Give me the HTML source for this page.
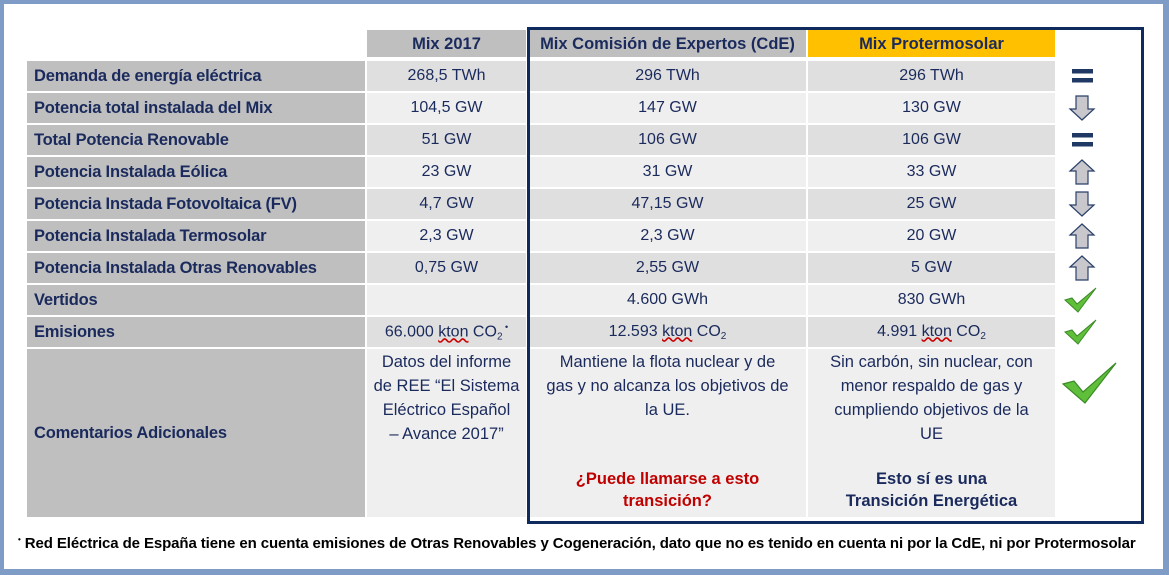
<!DOCTYPE html>
<html><head><meta charset="utf-8"><style>
*{margin:0;padding:0;box-sizing:border-box}
body{width:1169px;height:575px;position:relative;overflow:hidden;background:#fff;font-family:"Liberation Sans",sans-serif;color:#1a2a5c}
.fr{position:absolute;background:#7f9cc6}
.c{position:absolute;display:flex;align-items:center;justify-content:center;text-align:center;font-size:16px;white-space:nowrap}
.l{position:absolute;display:flex;align-items:center;padding-left:7px;font-size:16.5px;font-weight:bold;background:#bfbfbf;white-space:nowrap;letter-spacing:-0.2px}
.h{font-weight:bold;font-size:16.5px;padding-top:2px}
.txt{position:absolute;text-align:center;font-size:16.5px;line-height:24px;white-space:nowrap}
sub{font-size:10px;vertical-align:-3px}
.ic{position:absolute}
</style></head><body>
<div class="fr" style="left:0;top:0;width:1169px;height:4px"></div>
<div class="fr" style="left:0;top:0;width:4px;height:575px"></div>
<div class="fr" style="left:1163px;top:0;width:6px;height:575px"></div>
<div class="fr" style="left:0;top:569px;width:1169px;height:6px"></div>

<div class="c h" style="left:367px;top:30px;width:159px;height:27px;background:#bfbfbf">Mix 2017</div>
<div class="c h" style="left:529px;top:30px;width:277px;height:27px;background:#bfbfbf">Mix Comisión de Expertos (CdE)</div>
<div class="c h" style="left:808px;top:30px;width:247px;height:27px;background:#ffc000">Mix Protermosolar</div>

<div id="rows"></div>
<script>
var W="<u style='text-decoration:underline wavy #c00'>kton</u>";
var rows=[
["Demanda de energía eléctrica","268,5 TWh","296 TWh","296 TWh","eq"],
["Potencia total instalada del Mix","104,5 GW","147 GW","130 GW","dn"],
["Total Potencia Renovable","51 GW","106 GW","106 GW","eq"],
["Potencia Instalada Eólica","23 GW","31 GW","33 GW","up"],
["Potencia Instada Fotovoltaica (FV)","4,7 GW","47,15 GW","25 GW","dn"],
["Potencia Instalada Termosolar","2,3 GW","2,3 GW","20 GW","up"],
["Potencia Instalada Otras Renovables","0,75 GW","2,55 GW","5 GW","up"],
["Vertidos","","4.600 GWh","830 GWh","ck"],
["Emisiones","66.000 "+W+" CO<sub>2</sub><sup style='font-size:9px'> •</sup>","12.593 "+W+" CO<sub>2</sub>","4.991 "+W+" CO<sub>2</sub>","ck"]];
var h="";
var icons={
eq:'<svg width="22" height="18"><rect x="1" y="2" width="21" height="4.5" fill="#1f3864"/><rect x="1" y="11" width="21" height="4.5" fill="#1f3864"/></svg>',
up:'<svg width="28" height="26"><path d="M14 1 L26 12 L20 12 L20 25 L8 25 L8 12 L2 12 Z" fill="#c8c8cc" stroke="#2a3f6a" stroke-width="1.2"/></svg>',
dn:'<svg width="28" height="26"><path d="M14 25 L26 14 L20 14 L20 1 L8 1 L8 14 L2 14 Z" fill="#c8c8cc" stroke="#2a3f6a" stroke-width="1.2"/></svg>',
ck:'<svg width="34" height="26"><path d="M1 13 L8 11 L13 17 L32 1 L14 25 Z" fill="#5fbf3a" stroke="#3a8a25" stroke-width="1"/></svg>'};
for(var i=0;i<rows.length;i++){
 var t=61+i*32, r=rows[i], bg=(i%2==0)?"#dfdfdf":"#efefef";
 h+='<div class="l" style="left:27px;top:'+t+'px;width:338px;height:30px"><span>'+r[0]+'</span></div>';
 h+='<div class="c" style="left:367px;top:'+t+'px;width:159px;height:30px;background:'+bg+'"><span>'+r[1]+'</span></div>';
 h+='<div class="c" style="left:529px;top:'+t+'px;width:277px;height:30px;background:'+bg+'"><span>'+r[2]+'</span></div>';
 h+='<div class="c" style="left:808px;top:'+t+'px;width:247px;height:30px;background:'+bg+'"><span>'+r[3]+'</span></div>';
 var ic=icons[r[4]], x=r[4]=="eq"?1071:(r[4]=="ck"?1064:1068);
 h+='<div class="ic" style="left:'+x+'px;top:'+(t+(r[4]=="eq"?6:2))+'px">'+ic+'</div>';
}
document.getElementById("rows").innerHTML=h;
</script>

<div class="l" style="left:27px;top:349px;width:338px;height:168px">Comentarios Adicionales</div>
<div style="position:absolute;left:367px;top:349px;width:159px;height:168px;background:#efefef"></div>
<div style="position:absolute;left:529px;top:349px;width:277px;height:168px;background:#efefef"></div>
<div style="position:absolute;left:808px;top:349px;width:247px;height:168px;background:#efefef"></div>
<div class="txt" style="left:362px;top:350px;width:169px">Datos del informe<br>de REE “El Sistema<br>Eléctrico Español<br>– Avance 2017”</div>
<div class="txt" style="left:529px;top:350px;width:277px">Mantiene la flota nuclear y de<br>gas y no alcanza los objetivos de<br>la UE.</div>
<div class="txt" style="left:808px;top:350px;width:247px">Sin carbón, sin nuclear, con<br>menor respaldo de gas y<br>cumpliendo objetivos de la<br>UE</div>
<div class="txt" style="left:529px;top:468px;width:277px;font-weight:bold;color:#c00000;line-height:22px">¿Puede llamarse a esto<br>transición?</div>
<div class="txt" style="left:808px;top:468px;width:247px;font-weight:bold;line-height:22px">Esto sí es una<br>Transición Energética</div>
<div class="ic" style="left:1062px;top:362px"><svg width="56" height="42"><path d="M1 22 L12 19 L21 30 L54 1 L23 41 Z" fill="#5fbf3a" stroke="#3a8a25" stroke-width="1.2"/></svg></div>

<div style="position:absolute;left:527px;top:27px;width:617px;height:497px;border:3px solid #0f2a5c"></div>

<div style="position:absolute;left:18px;top:535px;font-size:15px;font-weight:bold;color:#000;white-space:nowrap;letter-spacing:-0.1px"><sup style="font-size:8px">•</sup> Red Eléctrica de España tiene en cuenta emisiones de Otras Renovables y Cogeneración, dato que no es tenido en cuenta ni por la CdE, ni por Protermosolar</div>
</body></html>
